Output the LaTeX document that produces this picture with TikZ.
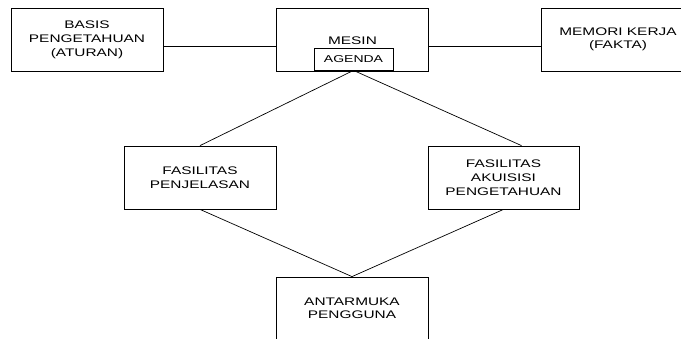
\documentclass[tikz,border=0pt]{standalone}
\usepackage{fontspec}
\setmainfont{Liberation Sans}[FakeStretch=1.4]
\begin{document}
\begin{tikzpicture}[x=1pt,y=-1pt,
  box/.style={draw,line width=0.8pt,minimum width=152pt,minimum height=63pt,inner sep=0pt,align=center,font=\fontsize{11}{14}\selectfont},
  box2/.style={box,font=\fontsize{11}{13.5}\selectfont},
  conn/.style={line width=0.7pt}]
\useasboundingbox (0,0) rectangle (681,338);
\clip (0,0) rectangle (681,338);
\node[box] (basis) at (87,39.5) {BASIS\\PENGETAHUAN\\(ATURAN)};
\node[box] (mesin) at (352.5,39.5) {};
\node[inner sep=0pt,font=\fontsize{11}{12}\selectfont] (mesinlbl) at (352.5,41) {MESIN};
\node[draw,line width=0.8pt,minimum width=79pt,minimum height=22pt,inner sep=0pt,font=\fontsize{10}{12}\selectfont] (agenda) at (353.5,59) {AGENDA};
\node[box2,minimum width=154pt] (memori) at (618,39.5) {MEMORI KERJA\\(FAKTA)};
\node[box2] (fp) at (200,177.5) {FASILITAS\\PENJELASAN};
\node[box,minimum width=151pt] (fa) at (503.5,177.5) {FASILITAS\\AKUISISI\\PENGETAHUAN};
\node[box2] (am) at (352,308.5) {ANTARMUKA\\PENGGUNA};
\draw[conn] ([yshift=-6.5pt]basis.east) -- ([yshift=-6.5pt]mesin.west);
\draw[conn] ([yshift=-6.5pt]mesin.east) -- ([yshift=-6.5pt]memori.west);
\draw[conn] (agenda.south) -- (fp.north);
\draw[conn] (agenda.south) -- ([xshift=18pt]fa.north);
\draw[conn] (fp.south) -- (am.north);
\draw[conn] (fa.south) -- (am.north);
\end{tikzpicture}
\end{document}
